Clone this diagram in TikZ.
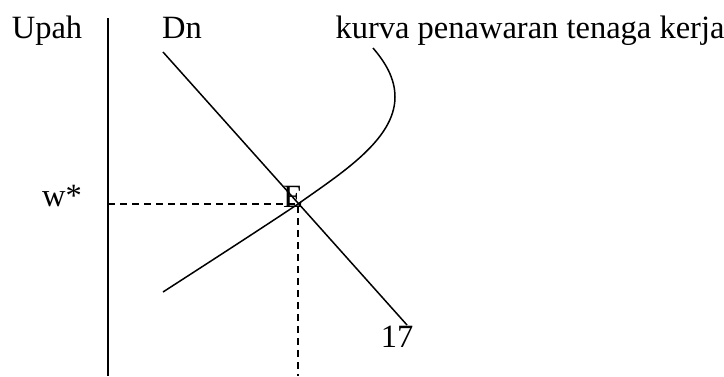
\documentclass[tikz,border=0pt]{standalone}
\usepackage{fontspec}
\setmainfont{Liberation Serif}

\begin{document}
\begin{tikzpicture}[x=1pt, y=-1pt]
    % Define styles
    \tikzset{
        label/.style={inner sep=0pt, font=\fontsize{32.5}{38}\selectfont},
        curve/.style={line width=1.5pt},
        guide/.style={line width=1.3pt, dash pattern=on 7pt off 5pt}
    }

    % Fix the page size
    \useasboundingbox (0,0) rectangle (724,376);

    % Draw axis
    \coordinate (top) at (108,18);
    \coordinate (bottom) at (108,376);
    \draw[curve] (top) -- (bottom);

    % Define the key points
    \coordinate (E) at (298,204);
    \coordinate (Dstart) at (163,52);
    \coordinate (Dend) at (407,325);
    \coordinate (Sstart) at (163,292);
    \coordinate (Send) at (373,48);
    \coordinate (wstar) at (108,204);
    \coordinate (nstar) at (298,376);

    % Draw the labour demand line
    \draw[curve] (Dstart) -- (Dend);

    % Draw the labour supply curve
    \draw[curve] (Sstart) .. controls (225,252) and (265,226) .. (E)
        .. controls (340,174) and (395,140) .. (395,97)
        .. controls (395,78) and (385,62) .. (Send);

    % Draw the dashed guides
    \draw[guide] (wstar) -- (E) -- (nstar);

    % Labels
    \node[label, anchor=base] (upah) at (47,38) {Upah};
    \node[label, anchor=base] (dn) at (182,38) {Dn};
    \node[label, anchor=base] (kurva) at (530,38) {kurva penawaran tenaga kerja};
    \node[label, anchor=base] (w) at (62,206) {w*};
    \node[label, anchor=base] (e) at (293,207) {E};
    \node[label, anchor=base] (n) at (397,347) {17};

\end{tikzpicture}
\end{document}
